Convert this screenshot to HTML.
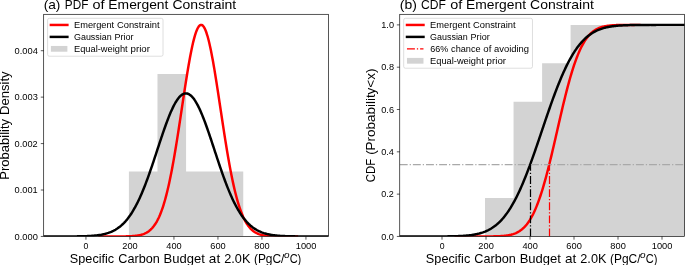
<!DOCTYPE html>
<html><head><meta charset="utf-8"><title>Emergent Constraint</title>
<style>html,body{margin:0;padding:0;background:#fff;overflow:hidden}svg{display:block;will-change:transform}text{font-family:"Liberation Sans",sans-serif;fill:#000}</style>
</head><body>
<svg width="685" height="265" viewBox="0 0 685 265">
<rect width="685" height="265" fill="#fff"/>
<defs><clipPath id="ca"><rect x="43.7" y="14.3" width="284.8" height="222.15"/></clipPath><clipPath id="cb"><rect x="399.75" y="14.3" width="284.75" height="222.15"/></clipPath></defs>
<g clip-path="url(#ca)">
<path d="M128.9 236.45V171.5H157.49V74.09H186.08V171.5H214.66V171.5H243.25V236.45Z" fill="#d3d3d3"/>
<polyline points="99.69,236.45 100.41,236.45 101.12,236.45 101.84,236.45 102.56,236.45 103.28,236.45 103.99,236.45 104.71,236.45 105.43,236.45 106.14,236.45 106.86,236.45 107.58,236.45 108.3,236.45 109.01,236.45 109.73,236.45 110.45,236.45 111.16,236.45 111.88,236.45 112.6,236.44 113.32,236.44 114.03,236.44 114.75,236.44 115.47,236.44 116.18,236.44 116.9,236.44 117.62,236.43 118.33,236.43 119.05,236.43 119.77,236.42 120.49,236.42 121.2,236.41 121.92,236.41 122.64,236.4 123.35,236.39 124.07,236.38 124.79,236.37 125.51,236.36 126.22,236.34 126.94,236.32 127.66,236.3 128.37,236.28 129.09,236.26 129.81,236.23 130.53,236.19 131.24,236.16 131.96,236.12 132.68,236.07 133.39,236.01 134.11,235.95 134.83,235.89 135.54,235.81 136.26,235.72 136.98,235.63 137.7,235.52 138.41,235.4 139.13,235.26 139.85,235.11 140.56,234.94 141.28,234.76 142,234.55 142.72,234.32 143.43,234.07 144.15,233.79 144.87,233.48 145.58,233.14 146.3,232.77 147.02,232.36 147.74,231.92 148.45,231.43 149.17,230.89 149.89,230.31 150.6,229.68 151.32,228.99 152.04,228.24 152.76,227.43 153.47,226.55 154.19,225.6 154.91,224.58 155.62,223.48 156.34,222.3 157.06,221.03 157.77,219.67 158.49,218.21 159.21,216.66 159.93,215 160.64,213.24 161.36,211.37 162.08,209.38 162.79,207.28 163.51,205.06 164.23,202.71 164.95,200.25 165.66,197.65 166.38,194.92 167.1,192.07 167.81,189.08 168.53,185.97 169.25,182.72 169.97,179.35 170.68,175.84 171.4,172.21 172.12,168.46 172.83,164.59 173.55,160.6 174.27,156.5 174.99,152.29 175.7,147.99 176.42,143.6 177.14,139.12 177.85,134.57 178.57,129.96 179.29,125.29 180,120.57 180.72,115.82 181.44,111.05 182.16,106.28 182.87,101.51 183.59,96.75 184.31,92.04 185.02,87.36 185.74,82.75 186.46,78.22 187.18,73.78 187.89,69.44 188.61,65.23 189.33,61.16 190.04,57.23 190.76,53.47 191.48,49.89 192.2,46.51 192.91,43.33 193.63,40.37 194.35,37.64 195.06,35.15 195.78,32.91 196.5,30.94 197.21,29.23 197.93,27.79 198.65,26.64 199.37,25.77 200.08,25.2 200.8,24.91 201.52,24.92 202.23,25.22 202.95,25.81 203.67,26.69 204.39,27.86 205.1,29.3 205.82,31.03 206.54,33.01 207.25,35.26 207.97,37.76 208.69,40.51 209.41,43.48 210.12,46.66 210.84,50.06 211.56,53.65 212.27,57.41 212.99,61.34 213.71,65.43 214.43,69.65 215.14,73.99 215.86,78.43 216.58,82.97 217.29,87.58 218.01,92.26 218.73,96.98 219.44,101.73 220.16,106.5 220.88,111.28 221.6,116.05 222.31,120.79 223.03,125.51 223.75,130.18 224.46,134.79 225.18,139.34 225.9,143.81 226.62,148.2 227.33,152.5 228.05,156.69 228.77,160.79 229.48,164.77 230.2,168.64 230.92,172.39 231.64,176.01 232.35,179.51 233.07,182.88 233.79,186.12 234.5,189.23 235.22,192.21 235.94,195.06 236.66,197.77 237.37,200.37 238.09,202.83 238.81,205.17 239.52,207.38 240.24,209.48 240.96,211.46 241.67,213.33 242.39,215.08 243.11,216.73 243.83,218.28 244.54,219.73 245.26,221.09 245.98,222.35 246.69,223.53 247.41,224.63 248.13,225.65 248.85,226.59 249.56,227.47 250.28,228.27 251,229.02 251.71,229.71 252.43,230.34 253.15,230.92 253.87,231.45 254.58,231.94 255.3,232.38 256.02,232.79 256.73,233.16 257.45,233.5 258.17,233.8 258.88,234.08 259.6,234.33 260.32,234.56 261.04,234.77 261.75,234.95 262.47,235.12 263.19,235.27 263.9,235.4 264.62,235.52 265.34,235.63 266.06,235.73 266.77,235.81 267.49,235.89 268.21,235.96 268.92,236.02 269.64,236.07 270.36,236.12 271.08,236.16 271.79,236.2 272.51,236.23 273.23,236.26 273.94,236.28 274.66,236.3 275.38,236.32 276.1,236.34 276.81,236.36 277.53,236.37 278.25,236.38 278.96,236.39 279.68,236.4 280.4,236.41 281.11,236.41 281.83,236.42 282.55,236.42 283.27,236.43 283.98,236.43 284.7,236.43 285.42,236.44 286.13,236.44 286.85,236.44 287.57,236.44 288.29,236.44 289,236.44 289.72,236.44 290.44,236.45 291.15,236.45 291.87,236.45 292.59,236.45 293.31,236.45 294.02,236.45 294.74,236.45 295.46,236.45 296.17,236.45 296.89,236.45" fill="none" stroke="#f00" stroke-width="2.47" stroke-linecap="square" stroke-linejoin="round"/>
<polyline points="43.04,236.45 43.76,236.45 44.47,236.45 45.19,236.45 45.91,236.45 46.63,236.45 47.34,236.45 48.06,236.45 48.78,236.45 49.49,236.45 50.21,236.45 50.93,236.45 51.65,236.45 52.36,236.45 53.08,236.45 53.8,236.45 54.51,236.45 55.23,236.45 55.95,236.45 56.66,236.45 57.38,236.44 58.1,236.44 58.82,236.44 59.53,236.44 60.25,236.44 60.97,236.44 61.68,236.44 62.4,236.44 63.12,236.44 63.84,236.44 64.55,236.43 65.27,236.43 65.99,236.43 66.7,236.43 67.42,236.42 68.14,236.42 68.86,236.42 69.57,236.42 70.29,236.41 71.01,236.41 71.72,236.4 72.44,236.4 73.16,236.39 73.87,236.39 74.59,236.38 75.31,236.37 76.03,236.37 76.74,236.36 77.46,236.35 78.18,236.34 78.89,236.33 79.61,236.31 80.33,236.3 81.05,236.29 81.76,236.27 82.48,236.25 83.2,236.23 83.91,236.21 84.63,236.19 85.35,236.17 86.07,236.14 86.78,236.11 87.5,236.08 88.22,236.05 88.93,236.01 89.65,235.97 90.37,235.93 91.09,235.89 91.8,235.84 92.52,235.78 93.24,235.73 93.95,235.66 94.67,235.6 95.39,235.53 96.1,235.45 96.82,235.37 97.54,235.28 98.26,235.19 98.97,235.08 99.69,234.98 100.41,234.86 101.12,234.74 101.84,234.6 102.56,234.46 103.28,234.31 103.99,234.15 104.71,233.98 105.43,233.79 106.14,233.6 106.86,233.39 107.58,233.17 108.3,232.94 109.01,232.69 109.73,232.43 110.45,232.15 111.16,231.86 111.88,231.54 112.6,231.21 113.32,230.87 114.03,230.5 114.75,230.11 115.47,229.7 116.18,229.27 116.9,228.82 117.62,228.34 118.33,227.84 119.05,227.31 119.77,226.76 120.49,226.18 121.2,225.57 121.92,224.93 122.64,224.27 123.35,223.57 124.07,222.85 124.79,222.09 125.51,221.3 126.22,220.47 126.94,219.61 127.66,218.72 128.37,217.79 129.09,216.82 129.81,215.82 130.53,214.78 131.24,213.7 131.96,212.58 132.68,211.42 133.39,210.23 134.11,208.99 134.83,207.72 135.54,206.4 136.26,205.04 136.98,203.65 137.7,202.21 138.41,200.73 139.13,199.21 139.85,197.66 140.56,196.06 141.28,194.42 142,192.75 142.72,191.04 143.43,189.29 144.15,187.5 144.87,185.68 145.58,183.82 146.3,181.93 147.02,180.01 147.74,178.06 148.45,176.07 149.17,174.06 149.89,172.03 150.6,169.97 151.32,167.89 152.04,165.78 152.76,163.66 153.47,161.53 154.19,159.37 154.91,157.21 155.62,155.04 156.34,152.86 157.06,150.68 157.77,148.49 158.49,146.31 159.21,144.13 159.93,141.96 160.64,139.8 161.36,137.66 162.08,135.52 162.79,133.41 163.51,131.32 164.23,129.26 164.95,127.23 165.66,125.22 166.38,123.25 167.1,121.32 167.81,119.44 168.53,117.59 169.25,115.79 169.97,114.05 170.68,112.35 171.4,110.72 172.12,109.14 172.83,107.62 173.55,106.17 174.27,104.79 174.99,103.47 175.7,102.23 176.42,101.06 177.14,99.97 177.85,98.96 178.57,98.02 179.29,97.17 180,96.4 180.72,95.72 181.44,95.12 182.16,94.61 182.87,94.19 183.59,93.86 184.31,93.61 185.02,93.46 185.74,93.4 186.46,93.43 187.18,93.55 187.89,93.76 188.61,94.06 189.33,94.44 190.04,94.92 190.76,95.49 191.48,96.14 192.2,96.88 192.91,97.7 193.63,98.6 194.35,99.59 195.06,100.65 195.78,101.79 196.5,103.01 197.21,104.29 197.93,105.65 198.65,107.08 199.37,108.57 200.08,110.13 200.8,111.74 201.52,113.42 202.23,115.14 202.95,116.92 203.67,118.75 204.39,120.62 205.1,122.54 205.82,124.49 206.54,126.48 207.25,128.5 207.97,130.56 208.69,132.64 209.41,134.74 210.12,136.87 210.84,139.01 211.56,141.16 212.27,143.33 212.99,145.51 213.71,147.69 214.43,149.87 215.14,152.05 215.86,154.23 216.58,156.41 217.29,158.58 218.01,160.73 218.73,162.87 219.44,165 220.16,167.11 220.88,169.2 221.6,171.27 222.31,173.32 223.03,175.33 223.75,177.33 224.46,179.29 225.18,181.22 225.9,183.13 226.62,184.99 227.33,186.83 228.05,188.63 228.77,190.39 229.48,192.12 230.2,193.81 230.92,195.46 231.64,197.07 232.35,198.64 233.07,200.18 233.79,201.67 234.5,203.12 235.22,204.53 235.94,205.9 236.66,207.23 237.37,208.52 238.09,209.78 238.81,210.99 239.52,212.16 240.24,213.29 240.96,214.38 241.67,215.44 242.39,216.45 243.11,217.43 243.83,218.38 244.54,219.28 245.26,220.16 245.98,220.99 246.69,221.8 247.41,222.57 248.13,223.31 248.85,224.02 249.56,224.69 250.28,225.34 251,225.96 251.71,226.55 252.43,227.11 253.15,227.65 253.87,228.16 254.58,228.64 255.3,229.1 256.02,229.54 256.73,229.96 257.45,230.36 258.17,230.73 258.88,231.09 259.6,231.42 260.32,231.74 261.04,232.04 261.75,232.33 262.47,232.6 263.19,232.85 263.9,233.09 264.62,233.31 265.34,233.52 266.06,233.72 266.77,233.91 267.49,234.09 268.21,234.25 268.92,234.41 269.64,234.55 270.36,234.69 271.08,234.82 271.79,234.93 272.51,235.05 273.23,235.15 273.94,235.25 274.66,235.34 275.38,235.42 276.1,235.5 276.81,235.57 277.53,235.64 278.25,235.7 278.96,235.76 279.68,235.82 280.4,235.87 281.11,235.91 281.83,235.96 282.55,236 283.27,236.04 283.98,236.07 284.7,236.1 285.42,236.13 286.13,236.16 286.85,236.18 287.57,236.21 288.29,236.23 289,236.25 289.72,236.26 290.44,236.28 291.15,236.3 291.87,236.31 292.59,236.32 293.31,236.33 294.02,236.34 294.74,236.35 295.46,236.36 296.17,236.37 296.89,236.38 297.61,236.38 298.33,236.39 299.04,236.4 299.76,236.4 300.48,236.41 301.19,236.41 301.91,236.41 302.63,236.42 303.34,236.42 304.06,236.42 304.78,236.43 305.5,236.43 306.21,236.43 306.93,236.43 307.65,236.43 308.36,236.44 309.08,236.44 309.8,236.44 310.52,236.44 311.23,236.44 311.95,236.44 312.67,236.44 313.38,236.44 314.1,236.44 314.82,236.44 315.54,236.45 316.25,236.45 316.97,236.45 317.69,236.45 318.4,236.45 319.12,236.45 319.84,236.45 320.55,236.45 321.27,236.45 321.99,236.45 322.71,236.45 323.42,236.45 324.14,236.45 324.86,236.45 325.57,236.45 326.29,236.45 327.01,236.45 327.73,236.45 328.44,236.45 329.16,236.45" fill="none" stroke="#000" stroke-width="2.47" stroke-linecap="square" stroke-linejoin="round"/>
</g><g>
<rect x="43.7" y="14.3" width="284.8" height="222.15" fill="none" stroke="#000" stroke-width="0.66"/>
<path d="M85.95 236.45v3.2M129.95 236.45v3.2M173.95 236.45v3.2M217.95 236.45v3.2M261.95 236.45v3.2M305.95 236.45v3.2" stroke="#000" stroke-width="0.66" fill="none"/>
<text x="83.63" textLength="4.84" lengthAdjust="spacingAndGlyphs" y="248.75" font-size="8.54">0</text>
<text x="122.32" textLength="15.42" lengthAdjust="spacingAndGlyphs" y="248.75" font-size="8.54">200</text>
<text x="166.37" textLength="15.37" lengthAdjust="spacingAndGlyphs" y="248.75" font-size="8.54">400</text>
<text x="210.28" textLength="15.46" lengthAdjust="spacingAndGlyphs" y="248.75" font-size="8.54">600</text>
<text x="254.34" textLength="15.4" lengthAdjust="spacingAndGlyphs" y="248.75" font-size="8.54">800</text>
<text x="295.76" textLength="20.62" lengthAdjust="spacingAndGlyphs" y="248.75" font-size="8.54">1000</text>
<path d="M43.7 236.45h-2.9M43.7 190.01h-2.9M43.7 143.58h-2.9M43.7 97.14h-2.9M43.7 50.71h-2.9" stroke="#000" stroke-width="0.66" fill="none"/>
<text x="14.64" textLength="23.26" lengthAdjust="spacingAndGlyphs" y="239.5" font-size="8.54">0.000</text>
<text x="14.64" textLength="23.13" lengthAdjust="spacingAndGlyphs" y="193.06" font-size="8.54">0.001</text>
<text x="14.64" textLength="23.08" lengthAdjust="spacingAndGlyphs" y="146.63" font-size="8.54">0.002</text>
<text x="14.64" textLength="23.19" lengthAdjust="spacingAndGlyphs" y="100.19" font-size="8.54">0.003</text>
<text x="14.64" textLength="23.25" lengthAdjust="spacingAndGlyphs" y="53.76" font-size="8.54">0.004</text>
<text y="9.05" font-size="12.76"><tspan x="43.66" textLength="16.76" lengthAdjust="spacingAndGlyphs">(a)</tspan> <tspan x="64.79" textLength="23.53" lengthAdjust="spacingAndGlyphs">PDF</tspan> <tspan x="92.56" textLength="12.03" lengthAdjust="spacingAndGlyphs">of</tspan> <tspan x="108.36" textLength="60.03" lengthAdjust="spacingAndGlyphs">Emergent</tspan> <tspan x="172.49" textLength="63.75" lengthAdjust="spacingAndGlyphs">Constraint</tspan></text>
<text transform="translate(9,125.38) rotate(-90)" y="0" font-size="11.95"><tspan x="-54.25" textLength="60.67" lengthAdjust="spacingAndGlyphs">Probability</tspan> <tspan x="10.47" textLength="43.54" lengthAdjust="spacingAndGlyphs">Density</tspan></text>
<rect x="47.58" y="18.32" width="115.44" height="37.9" rx="1.7" ry="1.7" fill="#fff" fill-opacity="0.8" stroke="#ccc" stroke-opacity="0.8" stroke-width="0.82"/>
<path d="M50.88 24.95H67.38" stroke="#f00" stroke-width="2.47" stroke-linecap="square"/>
<text y="27.9" font-size="8.54"><tspan x="74.02" textLength="40.16" lengthAdjust="spacingAndGlyphs">Emergent</tspan> <tspan x="116.93" textLength="42.66" lengthAdjust="spacingAndGlyphs">Constraint</tspan></text>
<path d="M50.88 36.9H67.38" stroke="#000" stroke-width="2.47" stroke-linecap="square"/>
<text y="39.85" font-size="8.54"><tspan x="73.99" textLength="37.72" lengthAdjust="spacingAndGlyphs">Gaussian</tspan> <tspan x="114.52" textLength="19.04" lengthAdjust="spacingAndGlyphs">Prior</tspan></text>
<rect x="50.88" y="45.95" width="16.5" height="5.77" fill="#d3d3d3"/>
<text y="51.8" font-size="8.54"><tspan x="74.02" textLength="53.64" lengthAdjust="spacingAndGlyphs">Equal-weight</tspan> <tspan x="130.54" textLength="19.4" lengthAdjust="spacingAndGlyphs">prior</tspan></text>
</g>
<text y="262.6" font-size="11.95"><tspan x="69.83" textLength="44.39" lengthAdjust="spacingAndGlyphs">Specific</tspan> <tspan x="118.28" textLength="41.45" lengthAdjust="spacingAndGlyphs">Carbon</tspan> <tspan x="163.62" textLength="41.29" lengthAdjust="spacingAndGlyphs">Budget</tspan> <tspan x="208.89" textLength="11.3" lengthAdjust="spacingAndGlyphs">at</tspan> <tspan x="224.26" textLength="26.12" lengthAdjust="spacingAndGlyphs">2.0K</tspan> <tspan x="253.91" textLength="30.51" lengthAdjust="spacingAndGlyphs">(PgC/</tspan></text>
<text x="283.97" textLength="5.55" lengthAdjust="spacingAndGlyphs" y="258.4" font-size="8.55" font-style="italic">o</text>
<text x="289.64" textLength="11.65" lengthAdjust="spacingAndGlyphs" y="262.6" font-size="11.95">C)</text>
<g clip-path="url(#cb)">
<path d="M485 236.45V197.98H513.55V101.81H542.1V63.35H570.6V24.88H685.5V236.45Z" fill="#d3d3d3"/>
<polyline points="455.74,236.45 456.46,236.45 457.17,236.45 457.89,236.45 458.61,236.45 459.33,236.45 460.04,236.45 460.76,236.45 461.48,236.45 462.19,236.45 462.91,236.45 463.63,236.45 464.35,236.45 465.06,236.45 465.78,236.45 466.5,236.45 467.21,236.45 467.93,236.45 468.65,236.45 469.37,236.45 470.08,236.45 470.8,236.45 471.52,236.45 472.23,236.45 472.95,236.45 473.67,236.45 474.38,236.45 475.1,236.45 475.82,236.45 476.54,236.45 477.25,236.45 477.97,236.45 478.69,236.45 479.4,236.44 480.12,236.44 480.84,236.44 481.56,236.44 482.27,236.44 482.99,236.44 483.71,236.44 484.42,236.43 485.14,236.43 485.86,236.43 486.58,236.42 487.29,236.42 488.01,236.42 488.73,236.41 489.44,236.4 490.16,236.4 490.88,236.39 491.59,236.38 492.31,236.37 493.03,236.36 493.75,236.35 494.46,236.33 495.18,236.31 495.9,236.3 496.61,236.27 497.33,236.25 498.05,236.22 498.77,236.19 499.48,236.16 500.2,236.12 500.92,236.08 501.63,236.03 502.35,235.98 503.07,235.93 503.79,235.86 504.5,235.79 505.22,235.71 505.94,235.63 506.65,235.53 507.37,235.42 508.09,235.31 508.81,235.18 509.52,235.04 510.24,234.89 510.96,234.72 511.67,234.53 512.39,234.33 513.11,234.11 513.82,233.87 514.54,233.61 515.26,233.33 515.98,233.02 516.69,232.69 517.41,232.33 518.13,231.95 518.84,231.53 519.56,231.08 520.28,230.6 521,230.08 521.71,229.52 522.43,228.92 523.15,228.29 523.86,227.61 524.58,226.88 525.3,226.11 526.02,225.28 526.73,224.41 527.45,223.48 528.17,222.5 528.88,221.46 529.6,220.37 530.32,219.21 531.04,217.99 531.75,216.71 532.47,215.36 533.19,213.95 533.9,212.47 534.62,210.92 535.34,209.31 536.05,207.62 536.77,205.87 537.49,204.04 538.21,202.14 538.92,200.17 539.64,198.13 540.36,196.02 541.07,193.84 541.79,191.6 542.51,189.28 543.23,186.9 543.94,184.45 544.66,181.94 545.38,179.36 546.09,176.73 546.81,174.04 547.53,171.3 548.25,168.5 548.96,165.66 549.68,162.77 550.4,159.83 551.11,156.86 551.83,153.86 552.55,150.82 553.26,147.75 553.98,144.66 554.7,141.56 555.42,138.43 556.13,135.3 556.85,132.16 557.57,129.02 558.28,125.88 559,122.75 559.72,119.62 560.44,116.52 561.15,113.43 561.87,110.37 562.59,107.33 563.3,104.33 564.02,101.36 564.74,98.43 565.46,95.54 566.17,92.69 566.89,89.9 567.61,87.16 568.32,84.47 569.04,81.84 569.76,79.27 570.48,76.76 571.19,74.32 571.91,71.94 572.63,69.63 573.34,67.38 574.06,65.2 574.78,63.1 575.49,61.06 576.21,59.1 576.93,57.2 577.65,55.38 578.36,53.63 579.08,51.94 579.8,50.33 580.51,48.79 581.23,47.31 581.95,45.9 582.67,44.56 583.38,43.28 584.1,42.06 584.82,40.91 585.53,39.82 586.25,38.78 586.97,37.8 587.69,36.88 588.4,36.01 589.12,35.19 589.84,34.41 590.55,33.69 591.27,33.01 591.99,32.38 592.71,31.78 593.42,31.23 594.14,30.71 594.86,30.23 595.57,29.78 596.29,29.36 597.01,28.98 597.72,28.62 598.44,28.29 599.16,27.98 599.88,27.7 600.59,27.44 601.31,27.21 602.03,26.99 602.74,26.79 603.46,26.6 604.18,26.44 604.9,26.28 605.61,26.14 606.33,26.02 607.05,25.9 607.76,25.79 608.48,25.7 609.2,25.61 609.92,25.53 610.63,25.46 611.35,25.4 612.07,25.34 612.78,25.29 613.5,25.25 614.22,25.2 614.93,25.17 615.65,25.13 616.37,25.1 617.09,25.08 617.8,25.05 618.52,25.03 619.24,25.01 619.95,25 620.67,24.98 621.39,24.97 622.11,24.96 622.82,24.95 623.54,24.94 624.26,24.93 624.97,24.92 625.69,24.92 626.41,24.91 627.13,24.91 627.84,24.9 628.56,24.9 629.28,24.9 629.99,24.9 630.71,24.89 631.43,24.89 632.15,24.89 632.86,24.89 633.58,24.89 634.3,24.89 635.01,24.88 635.73,24.88 636.45,24.88 637.16,24.88 637.88,24.88 638.6,24.88 639.32,24.88" fill="none" stroke="#f00" stroke-width="2.47" stroke-linecap="square" stroke-linejoin="round"/>
<polyline points="399.09,236.45 399.81,236.45 400.52,236.45 401.24,236.45 401.96,236.45 402.68,236.45 403.39,236.45 404.11,236.45 404.83,236.45 405.54,236.45 406.26,236.45 406.98,236.45 407.7,236.45 408.41,236.45 409.13,236.45 409.85,236.45 410.56,236.45 411.28,236.45 412,236.45 412.71,236.45 413.43,236.45 414.15,236.45 414.87,236.45 415.58,236.45 416.3,236.45 417.02,236.45 417.73,236.45 418.45,236.45 419.17,236.45 419.89,236.45 420.6,236.45 421.32,236.45 422.04,236.45 422.75,236.45 423.47,236.45 424.19,236.45 424.91,236.45 425.62,236.45 426.34,236.44 427.06,236.44 427.77,236.44 428.49,236.44 429.21,236.44 429.92,236.44 430.64,236.44 431.36,236.44 432.08,236.44 432.79,236.44 433.51,236.44 434.23,236.43 434.94,236.43 435.66,236.43 436.38,236.43 437.1,236.43 437.81,236.42 438.53,236.42 439.25,236.42 439.96,236.41 440.68,236.41 441.4,236.41 442.12,236.4 442.83,236.4 443.55,236.39 444.27,236.39 444.98,236.38 445.7,236.37 446.42,236.37 447.14,236.36 447.85,236.35 448.57,236.34 449.29,236.33 450,236.32 450.72,236.31 451.44,236.29 452.15,236.28 452.87,236.26 453.59,236.25 454.31,236.23 455.02,236.21 455.74,236.19 456.46,236.16 457.17,236.14 457.89,236.11 458.61,236.08 459.33,236.05 460.04,236.02 460.76,235.99 461.48,235.95 462.19,235.91 462.91,235.86 463.63,235.82 464.35,235.77 465.06,235.71 465.78,235.65 466.5,235.59 467.21,235.53 467.93,235.46 468.65,235.38 469.37,235.3 470.08,235.21 470.8,235.12 471.52,235.03 472.23,234.92 472.95,234.81 473.67,234.7 474.38,234.57 475.1,234.44 475.82,234.3 476.54,234.15 477.25,233.99 477.97,233.83 478.69,233.65 479.4,233.47 480.12,233.27 480.84,233.06 481.56,232.84 482.27,232.61 482.99,232.37 483.71,232.11 484.42,231.84 485.14,231.56 485.86,231.26 486.58,230.94 487.29,230.61 488.01,230.27 488.73,229.91 489.44,229.52 490.16,229.13 490.88,228.71 491.59,228.27 492.31,227.82 493.03,227.34 493.75,226.84 494.46,226.32 495.18,225.78 495.9,225.22 496.61,224.63 497.33,224.02 498.05,223.38 498.77,222.72 499.48,222.03 500.2,221.32 500.92,220.58 501.63,219.81 502.35,219.01 503.07,218.19 503.79,217.34 504.5,216.45 505.22,215.54 505.94,214.6 506.65,213.63 507.37,212.63 508.09,211.59 508.81,210.53 509.52,209.43 510.24,208.3 510.96,207.14 511.67,205.95 512.39,204.72 513.11,203.47 513.82,202.18 514.54,200.85 515.26,199.5 515.98,198.11 516.69,196.69 517.41,195.24 518.13,193.76 518.84,192.24 519.56,190.7 520.28,189.12 521,187.51 521.71,185.88 522.43,184.21 523.15,182.52 523.86,180.79 524.58,179.04 525.3,177.26 526.02,175.46 526.73,173.63 527.45,171.77 528.17,169.89 528.88,167.99 529.6,166.07 530.32,164.12 531.04,162.16 531.75,160.17 532.47,158.17 533.19,156.15 533.9,154.12 534.62,152.07 535.34,150 536.05,147.93 536.77,145.85 537.49,143.75 538.21,141.65 538.92,139.54 539.64,137.42 540.36,135.3 541.07,133.18 541.79,131.06 542.51,128.93 543.23,126.81 543.94,124.69 544.66,122.57 545.38,120.46 546.09,118.35 546.81,116.26 547.53,114.17 548.25,112.09 548.96,110.02 549.68,107.97 550.4,105.93 551.11,103.9 551.83,101.9 552.55,99.9 553.26,97.93 553.98,95.98 554.7,94.05 555.42,92.14 556.13,90.25 556.85,88.39 557.57,86.55 558.28,84.73 559,82.94 559.72,81.18 560.44,79.45 561.15,77.74 561.87,76.06 562.59,74.42 563.3,72.8 564.02,71.21 564.74,69.65 565.46,68.13 566.17,66.63 566.89,65.17 567.61,63.74 568.32,62.34 569.04,60.97 569.76,59.64 570.48,58.34 571.19,57.07 571.91,55.83 572.63,54.62 573.34,53.45 574.06,52.31 574.78,51.2 575.49,50.13 576.21,49.08 576.93,48.07 577.65,47.08 578.36,46.13 579.08,45.21 579.8,44.31 580.51,43.45 581.23,42.62 581.95,41.81 582.67,41.03 583.38,40.28 584.1,39.56 584.82,38.86 585.53,38.19 586.25,37.54 586.97,36.92 587.69,36.33 588.4,35.75 589.12,35.2 589.84,34.68 590.55,34.17 591.27,33.69 591.99,33.22 592.71,32.78 593.42,32.35 594.14,31.95 594.86,31.56 595.57,31.19 596.29,30.84 597.01,30.5 597.72,30.18 598.44,29.88 599.16,29.59 599.88,29.32 600.59,29.05 601.31,28.81 602.03,28.57 602.74,28.35 603.46,28.13 604.18,27.93 604.9,27.74 605.61,27.56 606.33,27.39 607.05,27.23 607.76,27.08 608.48,26.94 609.2,26.8 609.92,26.68 610.63,26.56 611.35,26.45 612.07,26.34 612.78,26.24 613.5,26.15 614.22,26.06 614.93,25.98 615.65,25.9 616.37,25.83 617.09,25.76 617.8,25.7 618.52,25.64 619.24,25.58 619.95,25.53 620.67,25.48 621.39,25.44 622.11,25.4 622.82,25.36 623.54,25.32 624.26,25.29 624.97,25.25 625.69,25.23 626.41,25.2 627.13,25.17 627.84,25.15 628.56,25.13 629.28,25.11 629.99,25.09 630.71,25.07 631.43,25.06 632.15,25.04 632.86,25.03 633.58,25.02 634.3,25 635.01,24.99 635.73,24.98 636.45,24.97 637.16,24.97 637.88,24.96 638.6,24.95 639.32,24.95 640.03,24.94 640.75,24.93 641.47,24.93 642.18,24.92 642.9,24.92 643.62,24.92 644.34,24.91 645.05,24.91 645.77,24.91 646.49,24.9 647.2,24.9 647.92,24.9 648.64,24.9 649.36,24.9 650.07,24.89 650.79,24.89 651.51,24.89 652.22,24.89 652.94,24.89 653.66,24.89 654.38,24.89 655.09,24.89 655.81,24.89 656.53,24.88 657.24,24.88 657.96,24.88 658.68,24.88 659.39,24.88 660.11,24.88 660.83,24.88 661.55,24.88 662.26,24.88 662.98,24.88 663.7,24.88 664.41,24.88 665.13,24.88 665.85,24.88 666.57,24.88 667.28,24.88 668,24.88 668.72,24.88 669.43,24.88 670.15,24.88 670.87,24.88 671.59,24.88 672.3,24.88 673.02,24.88 673.74,24.88 674.45,24.88 675.17,24.88 675.89,24.88 676.6,24.88 677.32,24.88 678.04,24.88 678.76,24.88 679.47,24.88 680.19,24.88 680.91,24.88 681.62,24.88 682.34,24.88 683.06,24.88 683.78,24.88 684.49,24.88 685.21,24.88" fill="none" stroke="#000" stroke-width="2.47" stroke-linecap="square" stroke-linejoin="round"/>
<path d="M399.75 164.6H684.5" stroke="#a9a9a9" stroke-width="1.24" stroke-dasharray="7.92 1.98 1.24 1.98" fill="none"/>
<path d="M530.5 236.45V164.6" stroke="#000" stroke-width="1.24" stroke-dasharray="7.92 1.98 1.24 1.98" fill="none"/>
<path d="M549.5 236.45V164.6" stroke="#f00" stroke-width="1.24" stroke-dasharray="7.92 1.98 1.24 1.98" fill="none"/>
</g><g>
<rect x="399.75" y="14.3" width="284.75" height="222.15" fill="none" stroke="#000" stroke-width="0.66"/>
<path d="M442 236.45v3.2M486 236.45v3.2M530 236.45v3.2M574 236.45v3.2M618 236.45v3.2M662 236.45v3.2" stroke="#000" stroke-width="0.66" fill="none"/>
<text x="439.68" textLength="4.84" lengthAdjust="spacingAndGlyphs" y="248.75" font-size="8.54">0</text>
<text x="478.37" textLength="15.42" lengthAdjust="spacingAndGlyphs" y="248.75" font-size="8.54">200</text>
<text x="522.42" textLength="15.37" lengthAdjust="spacingAndGlyphs" y="248.75" font-size="8.54">400</text>
<text x="566.33" textLength="15.46" lengthAdjust="spacingAndGlyphs" y="248.75" font-size="8.54">600</text>
<text x="610.39" textLength="15.4" lengthAdjust="spacingAndGlyphs" y="248.75" font-size="8.54">800</text>
<text x="651.81" textLength="20.62" lengthAdjust="spacingAndGlyphs" y="248.75" font-size="8.54">1000</text>
<path d="M399.75 236.45h-2.9M399.75 194.14h-2.9M399.75 151.82h-2.9M399.75 109.51h-2.9M399.75 67.19h-2.9M399.75 24.88h-2.9" stroke="#000" stroke-width="0.66" fill="none"/>
<text x="381.24" textLength="12.74" lengthAdjust="spacingAndGlyphs" y="239.5" font-size="8.54">0.0</text>
<text x="381.25" textLength="12.55" lengthAdjust="spacingAndGlyphs" y="197.19" font-size="8.54">0.2</text>
<text x="381.24" textLength="12.74" lengthAdjust="spacingAndGlyphs" y="154.87" font-size="8.54">0.4</text>
<text x="381.24" textLength="12.82" lengthAdjust="spacingAndGlyphs" y="112.56" font-size="8.54">0.6</text>
<text x="381.24" textLength="12.77" lengthAdjust="spacingAndGlyphs" y="70.24" font-size="8.54">0.8</text>
<text x="381.27" textLength="12.72" lengthAdjust="spacingAndGlyphs" y="27.93" font-size="8.54">1.0</text>
<text y="9.05" font-size="12.76"><tspan x="399.84" textLength="17.06" lengthAdjust="spacingAndGlyphs">(b)</tspan> <tspan x="421.09" textLength="24.89" lengthAdjust="spacingAndGlyphs">CDF</tspan> <tspan x="450.2" textLength="12.03" lengthAdjust="spacingAndGlyphs">of</tspan> <tspan x="466.01" textLength="60.03" lengthAdjust="spacingAndGlyphs">Emergent</tspan> <tspan x="530.13" textLength="63.75" lengthAdjust="spacingAndGlyphs">Constraint</tspan></text>
<text transform="translate(375.3,125.38) rotate(-90)" y="0" font-size="11.95"><tspan x="-56.86" textLength="23.31" lengthAdjust="spacingAndGlyphs">CDF</tspan> <tspan x="-29.49" textLength="86.26" lengthAdjust="spacingAndGlyphs">(Probability&lt;x)</tspan></text>
<rect x="403.68" y="18.32" width="128.79" height="49.9" rx="1.7" ry="1.7" fill="#fff" fill-opacity="0.8" stroke="#ccc" stroke-opacity="0.8" stroke-width="0.82"/>
<path d="M406.98 24.95H423.48" stroke="#f00" stroke-width="2.47" stroke-linecap="square"/>
<text y="27.9" font-size="8.54"><tspan x="430.12" textLength="40.16" lengthAdjust="spacingAndGlyphs">Emergent</tspan> <tspan x="473.03" textLength="42.66" lengthAdjust="spacingAndGlyphs">Constraint</tspan></text>
<path d="M406.98 36.9H423.48" stroke="#000" stroke-width="2.47" stroke-linecap="square"/>
<text y="39.85" font-size="8.54"><tspan x="430.09" textLength="37.72" lengthAdjust="spacingAndGlyphs">Gaussian</tspan> <tspan x="470.62" textLength="19.04" lengthAdjust="spacingAndGlyphs">Prior</tspan></text>
<path d="M406.98 48.85H423.48" stroke="#f00" stroke-width="1.24" stroke-dasharray="7.92 1.98 1.24 1.98"/>
<text y="51.8" font-size="8.54"><tspan x="430.19" textLength="18.08" lengthAdjust="spacingAndGlyphs">66%</tspan> <tspan x="451.1" textLength="29.56" lengthAdjust="spacingAndGlyphs">chance</tspan> <tspan x="483.37" textLength="8.05" lengthAdjust="spacingAndGlyphs">of</tspan> <tspan x="493.99" textLength="35.03" lengthAdjust="spacingAndGlyphs">avoiding</tspan></text>
<rect x="406.98" y="57.9" width="16.5" height="5.77" fill="#d3d3d3"/>
<text y="63.75" font-size="8.54"><tspan x="430.12" textLength="53.64" lengthAdjust="spacingAndGlyphs">Equal-weight</tspan> <tspan x="486.64" textLength="19.4" lengthAdjust="spacingAndGlyphs">prior</tspan></text>
</g>
<text y="262.6" font-size="11.95"><tspan x="425.88" textLength="44.39" lengthAdjust="spacingAndGlyphs">Specific</tspan> <tspan x="474.33" textLength="41.45" lengthAdjust="spacingAndGlyphs">Carbon</tspan> <tspan x="519.67" textLength="41.29" lengthAdjust="spacingAndGlyphs">Budget</tspan> <tspan x="564.94" textLength="11.3" lengthAdjust="spacingAndGlyphs">at</tspan> <tspan x="580.31" textLength="26.12" lengthAdjust="spacingAndGlyphs">2.0K</tspan> <tspan x="609.96" textLength="30.51" lengthAdjust="spacingAndGlyphs">(PgC/</tspan></text>
<text x="640.02" textLength="5.55" lengthAdjust="spacingAndGlyphs" y="258.4" font-size="8.55" font-style="italic">o</text>
<text x="645.69" textLength="11.65" lengthAdjust="spacingAndGlyphs" y="262.6" font-size="11.95">C)</text>
</svg></body></html>
